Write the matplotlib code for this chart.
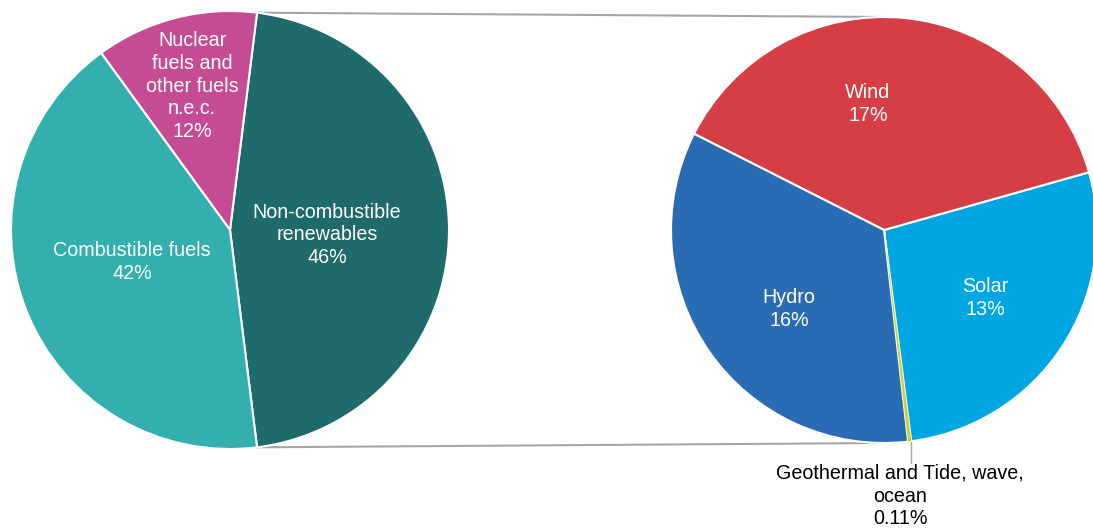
import numpy as np
import matplotlib
matplotlib.use('Agg')
import matplotlib.pyplot as plt

# main pie: share of total (%)
main_labels = ['Non-combustible\nrenewables', 'Nuclear\nfuels and\nother fuels\nn.e.c.', 'Combustible fuels']
main_values = [46.11, 12.0, 42.0]
main_pct = ['46%', '12%', '42%']
main_colors = ['#1f6a6a', '#c64b95', '#33afaf']

# split of non-combustible renewables (% of total)
sub_labels = ['Solar', 'Wind', 'Hydro', 'Geothermal and Tide, wave,\nocean']
sub_values = [12.6, 17.6, 15.8, 0.11]
sub_pct = ['13%', '17%', '16%', '0.11%']
sub_colors = ['#00a6e2', '#d63e45', '#2a6cb3', '#c9d12b']

W, H = 1093, 528
plt.rcParams['font.family'] = ['Liberation Sans', 'DejaVu Sans']

fig = plt.figure(figsize=(W / 100, H / 100), dpi=100)
ax = fig.add_axes([0, 0, 1, 1])

c1, r1 = (230, H - 230), 219
c2, r2 = (884, H - 230), 213

# main pie, split slice centred on the right
ang0 = main_values[0] / sum(main_values) * 360
w1, _ = ax.pie(main_values, colors=main_colors, center=c1, radius=r1,
               startangle=-ang0 / 2, counterclock=True, frame=True,
               wedgeprops=dict(edgecolor='white', linewidth=1.5))

# secondary pie, tiny slice at bottom
geo_ang = sub_values[3] / sum(sub_values) * 360
w2, _ = ax.pie(sub_values, colors=sub_colors, center=c2, radius=r2,
               startangle=-83.5 + geo_ang, counterclock=True, frame=True,
               wedgeprops=dict(edgecolor='white', linewidth=1.5))
w2[3].set_edgecolor('none')

ax.set_xlim(0, W)
ax.set_ylim(0, H)
ax.set_aspect('equal')
ax.axis('off')

# connector lines from split slice edges to secondary pie
t = np.deg2rad(ang0 / 2)
x0 = c1[0] + r1 * np.cos(t)
ax.plot([x0, c2[0]], [c1[1] + r1 * np.sin(t), c2[1] + r2], color='#a6a6a6', lw=1.5, zorder=0)
ax.plot([x0, c2[0]], [c1[1] - r1 * np.sin(t), c2[1] - r2], color='#a6a6a6', lw=1.5, zorder=0)

fs = 14.2
txt = dict(color='white', fontsize=fs, ha='center', va='center', linespacing=1.25)
main_pos = [(327, 235), (192, 86), (132, 262)]
for lab, p, (x, y) in zip(main_labels, main_pct, main_pos):
    ax.text(x, H - y, lab + '\n' + p, **txt)

sub_pos = [(985, 298), (868, 104), (789, 309)]
for lab, p, (x, y) in zip(sub_labels[:3], sub_pct[:3], sub_pos):
    ax.text(x, H - y, lab + '\n' + p, **txt)

# leader for the tiny slice
gx = 911
ax.plot([gx, gx], [H - 442, H - 463], color='#a6a6a6', lw=1)
ax.text(900, H - 496, sub_labels[3] + '\n' + sub_pct[3], color='black',
        fontsize=fs, ha='center', va='center', linespacing=1.25)

fig.savefig('out.png', dpi=100)
